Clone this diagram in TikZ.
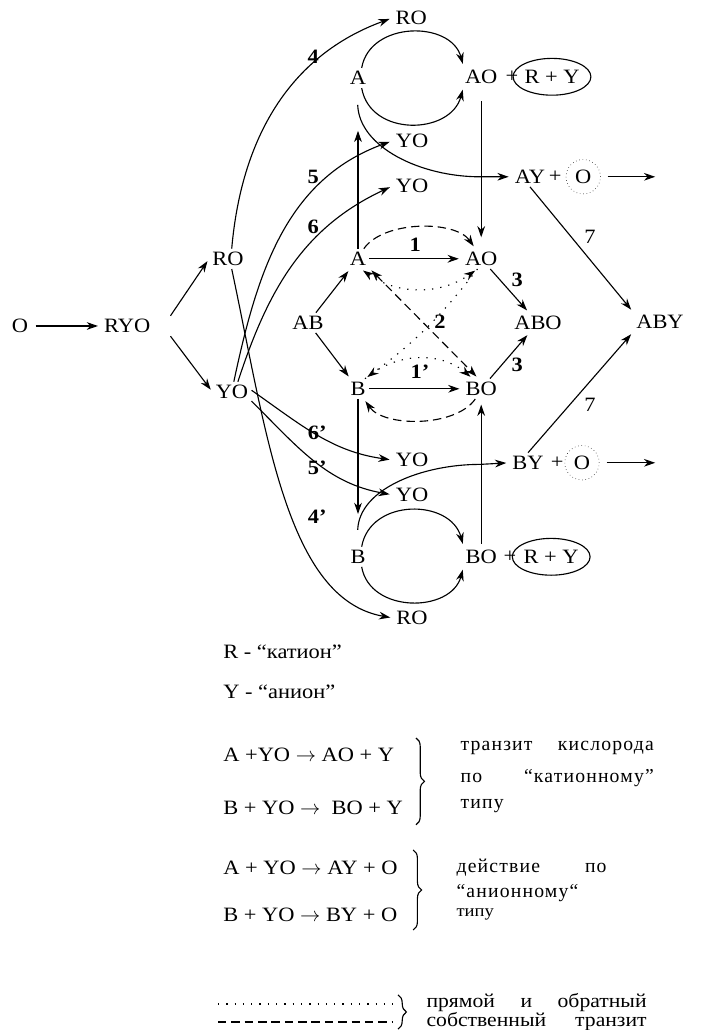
\documentclass[tikz,border=0pt]{standalone}
\usepackage{fontspec}
\setmainfont{Liberation Serif}[FakeStretch=1.1]
\newfontfamily\widefont{Liberation Serif}[LetterSpace=6]
\usetikzlibrary{shapes.geometric,arrows.meta,decorations.pathreplacing}

\begin{document}
\begin{tikzpicture}[
    font=\fontsize{14.5}{17}\selectfont,
    inner sep=2pt,
    line width=0.8pt,
    arr/.style={-{Stealth[length=8pt,width=5.5pt]}, shorten >=2pt},
    darr/.style={{Stealth[length=8pt,width=5.5pt]}-{Stealth[length=8pt,width=5.5pt]}, shorten >=2pt, shorten <=2pt},
    num/.style={font=\fontsize{14.5}{17}\selectfont\bfseries},
    ring/.style={draw, ellipse, inner sep=0pt, minimum width=1.6cm, minimum height=0.92cm},
    odot/.style={draw, circle, dotted, line width=0.4pt, inner sep=0pt, minimum size=0.86cm},
    dotline/.style={dash pattern=on 0.9pt off 5pt},
    dashline/.style={dash pattern=on 6pt off 3.5pt},
    brc/.style={decorate, decoration={brace, amplitude=6pt}},
    txt/.style={font=\fontsize{14}{16}\selectfont},
]
\useasboundingbox (0,0) rectangle (17.525,25.75);

    % Left part
    \node (O) at (0.50,17.60) {O};
    \node (RYO) at (3.18,17.60) {RYO};
    \node (ROl) at (5.70,19.28) {RO};
    \node (YOl) at (5.80,15.95) {YO};
    \draw[arr, shorten <=3pt] (O) -- (RYO);
    \draw[arr] ([xshift=12pt]RYO.north east) -- (ROl.west);
    \draw[arr] ([xshift=12pt]RYO.south east) -- (YOl.west);

    % Middle square
    \node (AB) at (7.70,17.68) {AB};
    \node (A) at (8.95,19.28) {A};
    \node (B) at (8.95,16.03) {B};
    \node (AO) at (12.03,19.28) {AO};
    \node (BO) at (12.03,16.03) {BO};
    \node (ABO) at (13.45,17.68) {ABO};
    \node (ABY) at (16.50,17.70) {ABY};
    \draw[arr] (AB) -- (A);
    \draw[arr] (AB) -- (B);
    \draw[arr] (A) -- (AO);
    \draw[arr] (B) -- (BO);
    \draw[arr] (AO) -- (ABO);
    \draw[arr] (BO) -- (ABO);

    % Own and reverse transit
    \draw[dashline, arr] (A.60) to[out=55,in=125,looseness=0.8] (AO.120);
    \draw[dashline, arr] (BO.-120) to[out=-125,in=-55,looseness=0.8] (B.-60);
    \draw[dashline, darr] (A.-40) -- (BO.105);
    \draw[dotline, darr] (A.-75) to[out=-35,in=-145] (AO.-110);
    \draw[dotline, arr] (AO.-110) to[bend left=8] (B.55);
    \draw[dotline, arr] (B.55) to[out=40,in=140] (BO.130);

    % Upper branch
    \node (At) at (8.95,23.80) {A};
    \node (AOt) at (12.03,23.83) {AO};
    \node (plA) at (12.80,23.83) {+};
    \node[ring] (RYa) at (13.80,23.83) {R + Y};
    \node (ROt) at (10.28,25.30) {RO};
    \node (YOa) at (10.30,22.23) {YO};
    \node (YOb) at (10.30,21.10) {YO};
    \node (AY) at (13.25,21.33) {AY};
    \node (plY) at (13.88,21.33) {+};
    \node[odot] (OA) at (14.58,21.33) {O};
    \coordinate (Aup) at (8.95,22.55);
    \coordinate (ajoin) at (12.00,21.33);
    \coordinate (AYout) at (16.45,21.33);
    \draw[arr] (At.70) to[out=80,in=105,looseness=1.2] (AOt.150);
    \draw[arr] (At.-70) to[out=-80,in=-105,looseness=1.25] (AOt.-150);
    \draw[arr] (A) -- (Aup);
    \draw[arr, shorten <=10pt, shorten >=8pt] (AOt) -- (AO);
    \draw[arr, shorten <=12pt] (At.-95) to[out=-88,in=180] (ajoin) -- (AY.west);
    \draw[arr, shorten <=5pt] (OA) -- (AYout);
    \draw[arr] (AY.south) -- (ABY.north west);
    \draw[arr] (ROl.70) to[out=85,in=200] (ROt.west);
    \draw[arr] (YOl.80) to[out=78,in=200] (YOa.west);
    \draw[arr] (YOl.60) to[out=72,in=205] (YOb.west);

    % Lower branch
    \node (Bb) at (8.95,11.83) {B};
    \node (BOb) at (12.03,11.83) {BO};
    \node (plB) at (12.75,11.83) {+};
    \node[ring] (RYb) at (13.78,11.83) {R + Y};
    \node (ROb) at (10.30,10.30) {RO};
    \node (YOc) at (10.30,14.25) {YO};
    \node (YOd) at (10.30,13.38) {YO};
    \node (BY) at (13.20,14.18) {BY};
    \node (plZ) at (13.93,14.18) {+};
    \node[odot] (OB) at (14.55,14.18) {O};
    \coordinate (Bdn) at (8.95,12.83);
    \coordinate (bjoin) at (12.00,14.14);
    \coordinate (BYout) at (16.45,14.18);
    \draw[arr] (Bb.70) to[out=80,in=105,looseness=1.25] (BOb.150);
    \draw[arr] (Bb.-70) to[out=-80,in=-105,looseness=1.2] (BOb.-150);
    \draw[arr] (B) -- (Bdn);
    \draw[arr, shorten <=2pt, shorten >=4pt] (BOb) -- (BO);
    \draw[arr, shorten <=12pt] (Bb.95) to[out=88,in=180] (bjoin) -- (BY.west);
    \draw[arr, shorten <=5pt] (OB) -- (BYout);
    \draw[arr] (BY.north) -- (ABY.south west);
    \draw[arr] (ROl.-70) to[out=-78,in=170,out distance=4.2cm,in distance=2.7cm] (ROb.west);
    \draw[arr] (YOl.5) to[out=-35,in=172] (YOc.west);
    \draw[arr] (YOl.-25) to[out=-45,in=170] (YOd.west);

    % Numbers
    \node[num] (n4) at (7.83,24.33) {4};
    \node[num] (n5) at (7.83,21.33) {5};
    \node[num] (n6) at (7.83,20.08) {6};
    \node[num] (n6b) at (7.93,14.93) {6’};
    \node[num] (n5b) at (7.93,14.05) {5’};
    \node[num] (n4b) at (7.93,12.83) {4’};
    \node[num] (n1) at (10.38,19.63) {1};
    \node[num] (n1b) at (10.50,16.45) {1’};
    \node[num] (n2) at (11.00,17.70) {2};
    \node[num] (n3a) at (12.93,18.75) {3};
    \node[num] (n3b) at (12.93,16.63) {3};
    \node (n7a) at (14.75,19.83) {7};
    \node (n7b) at (14.75,15.63) {7};

    % Legend
    \node[anchor=west] (lR) at (5.50,9.45) {R - “катион”};
    \node[anchor=west] (lY) at (5.50,8.45) {Y - “анион”};
    \node[anchor=west] (eq1) at (5.50,6.88) {A +YO $\rightarrow$ AO + Y};
    \node[anchor=west] (eq2) at (5.50,5.55) {B + YO $\rightarrow$\ \ BO + Y};
    \draw[brc] (10.40,7.30) -- (10.40,5.13);
    \node[anchor=west, txt] (c1) at (11.43,7.05) {\makebox[4.83cm][s]{\widefont транзит кислорода}};
    \node[anchor=west, txt] (c2) at (11.43,6.30) {\makebox[4.83cm][s]{\widefont по “катионному”}};
    \node[anchor=west, txt] (c3) at (11.43,5.60) {\widefont типу};

    \node[anchor=west] (eq3) at (5.50,4.05) {A + YO $\rightarrow$ AY + O};
    \node[anchor=west] (eq4) at (5.50,2.88) {B + YO $\rightarrow$ BY + O};
    \draw[brc] (10.33,4.50) -- (10.33,2.50);
    \node[anchor=west, txt] (d1) at (11.33,4.05) {\makebox[3.75cm][s]{\widefont действие по}};
    \node[anchor=west, txt] (d2) at (11.33,3.43) {\widefont “анионному“};
    \node[anchor=west, txt] (d3) at (11.33,2.88) {\fontsize{12}{14}\selectfont типу};

    \draw[dotline] (5.45,0.65) -- (9.83,0.65);
    \draw[dashline] (5.45,0.20) -- (9.83,0.20);
    \draw[brc] (9.95,0.88) -- (9.95,0.02);
    \node[anchor=west, txt] (p1) at (10.58,0.68) {\makebox[5.5cm][s]{прямой и обратный}};
    \node[anchor=west, txt] (p2) at (10.58,0.22) {\makebox[5.5cm][s]{собственный транзит}};
\end{tikzpicture}
\end{document}
